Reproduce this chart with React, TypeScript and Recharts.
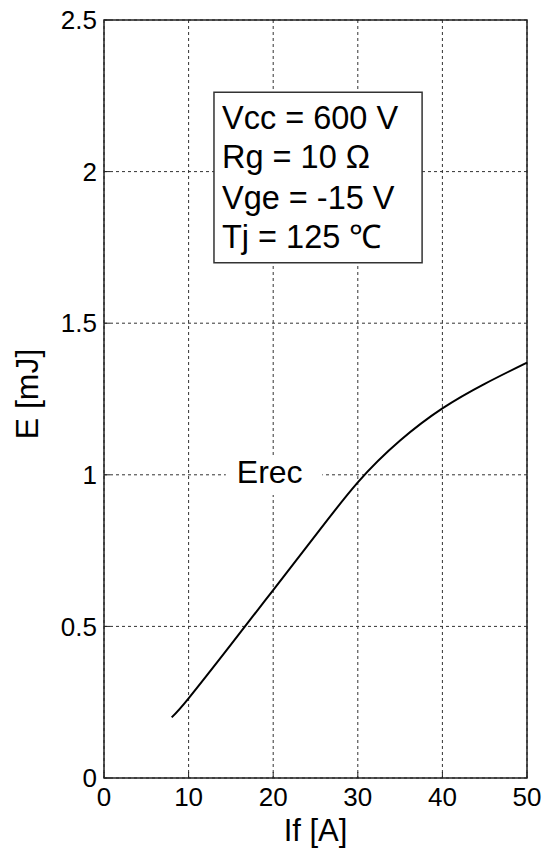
import React from "react";
import {
  LineChart,
  Line,
  XAxis,
  YAxis,
  CartesianGrid,
  ReferenceArea,
} from "recharts";

const IF_A = [8, 10, 15, 20, 25, 30, 35, 40, 45, 50];
const EREC = [0.2, 0.263, 0.44, 0.62, 0.8, 0.975, 1.113, 1.219, 1.3, 1.37];
const X_TICKS = [0, 10, 20, 30, 40, 50];
const Y_TICKS = [0, 0.5, 1, 1.5, 2, 2.5];
const CONDITIONS = ["Vcc = 600 V", "Rg = 10 Ω", "Vge = -15 V", "Tj = 125 ℃"];
const SERIES_NAME = "Erec";
const X_LABEL = "If [A]";
const Y_LABEL = "E [mJ]";

const data = IF_A.map((x, i) => ({ x, e: EREC[i] }));

const FONT = "'Liberation Sans', Arial, sans-serif";

const ConditionsLabel = (props: any) => {
  const vb = props.viewBox || {};
  const baselines = [37, 76, 117, 156];
  return (
    <g>
      {CONDITIONS.map((t, i) => (
        <text
          key={i}
          x={vb.x + 8}
          y={vb.y + baselines[i]}
          fontFamily={FONT}
          fontSize={32.5}
          fill="#000"
        >
          {t}
        </text>
      ))}
    </g>
  );
};

const SeriesLabel = (props: any) => {
  const vb = props.viewBox || {};
  return (
    <text
      x={vb.x + 11}
      y={vb.y + 28}
      fontFamily={FONT}
      fontSize={32}
      fill="#000"
    >
      {SERIES_NAME}
    </text>
  );
};

const YLabel = (props: any) => {
  const vb = props.viewBox || {};
  const cx = vb.x + 27;
  const cy = vb.y + vb.height / 2 - 5;
  return (
    <text
      x={cx}
      y={cy}
      transform={`rotate(-90 ${cx} ${cy})`}
      textAnchor="middle"
      dominantBaseline="central"
      fontFamily={FONT}
      fontSize={32}
      fill="#000"
    >
      {Y_LABEL}
    </text>
  );
};

const XLabel = (props: any) => {
  const vb = props.viewBox || {};
  return (
    <text
      x={vb.x + vb.width / 2}
      y={vb.y + 63}
      textAnchor="middle"
      fontFamily={FONT}
      fontSize={31}
      fill="#000"
    >
      {X_LABEL}
    </text>
  );
};

export default function App() {
  const tickStyle = { fontSize: 26, fill: "#000", fontFamily: FONT };
  return (
    <div style={{ position: "absolute", left: 0, top: 0, background: "#fff" }}>
      <LineChart
        width={551}
        height={853}
        data={data}
        margin={{ top: 20, right: 24, bottom: 0, left: 0 }}
      >
        <CartesianGrid
          stroke="#333"
          strokeDasharray="3 3"
          horizontal
          vertical
        />
        <XAxis
          dataKey="x"
          type="number"
          domain={[0, 50]}
          ticks={X_TICKS}
          height={75}
          tick={tickStyle}
          tickSize={-6}
          tickMargin={16}
          stroke="#222"
          axisLine={false}
          interval={0}
          label={<XLabel />}
        />
        <XAxis
          xAxisId="top"
          orientation="top"
          type="number"
          domain={[0, 50]}
          ticks={X_TICKS}
          height={0}
          tick={false}
          tickSize={-6}
          axisLine={false}
          stroke="#222"
        />
        <YAxis
          type="number"
          domain={[0, 2.5]}
          ticks={Y_TICKS}
          width={104}
          tick={tickStyle}
          tickSize={-6}
          tickMargin={13}
          axisLine={false}
          stroke="#222"
          interval={0}
          label={<YLabel />}
        />
        <YAxis
          yAxisId="right"
          orientation="right"
          type="number"
          domain={[0, 2.5]}
          ticks={Y_TICKS}
          width={0}
          tick={false}
          tickSize={-6}
          axisLine={false}
          stroke="#222"
        />
        <ReferenceArea
          x1={0}
          x2={50}
          y1={0}
          y2={2.5}
          fill="none"
          fillOpacity={0}
          stroke="#222"
          strokeWidth={1.5}
          ifOverflow="visible"
        />
        <ReferenceArea
          x1={13.0}
          x2={37.6}
          y1={1.699}
          y2={2.262}
          fill="#fff"
          fillOpacity={1}
          stroke="#333"
          strokeWidth={1.5}
          ifOverflow="visible"
          label={<ConditionsLabel />}
        />
        <ReferenceArea
          x1={14.4}
          x2={25.8}
          y1={0.933}
          y2={1.065}
          fill="#fff"
          fillOpacity={1}
          stroke="none"
          ifOverflow="visible"
          label={<SeriesLabel />}
        />
        <Line
          type="natural"
          dataKey="e"
          stroke="#000"
          strokeWidth={2}
          dot={false}
          isAnimationActive={false}
        />
      </LineChart>
    </div>
  );
}
